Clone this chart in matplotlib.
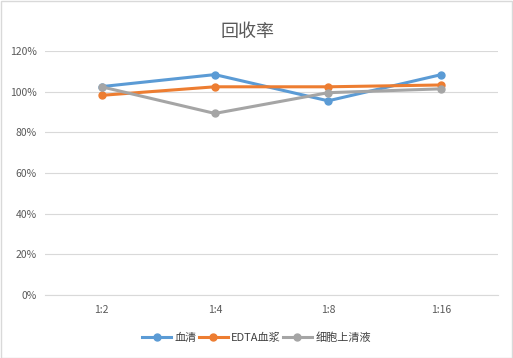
import matplotlib
matplotlib.use("Agg")
import matplotlib.pyplot as plt
from matplotlib.ticker import PercentFormatter

plt.rcParams['font.family'] = ['Noto Sans CJK SC', 'DejaVu Sans']

# data
categories = ['1:2', '1:4', '1:8', '1:16']
serum = [102.5, 108.4, 95.5, 108.4]
edta = [98.2, 102.4, 102.4, 103.3]
supernatant = [102.4, 89.3, 99.5, 101.4]
series_names = ['血清', 'EDTA血浆', '细胞上清液']
colors = ['#5B9BD5', '#ED7D31', '#A5A5A5']

fig = plt.figure(figsize=(5.13, 3.58), dpi=100)
ax = fig.add_axes([0.0877, 0.176, 0.883, 0.6815])

x = range(len(categories))
for vals, name, col in zip([serum, edta, supernatant], series_names, colors):
    ax.plot(x, vals, color=col, lw=2.2, marker='o', ms=5, label=name)

ax.set_xlim(-0.5, len(categories) - 0.5)
ax.set_ylim(0, 120)
ax.set_yticks(range(0, 121, 20))
ax.yaxis.set_major_formatter(PercentFormatter(decimals=0))
ax.set_xticks(list(x))
ax.set_xticklabels(categories)
ax.grid(axis='y', color='#D9D9D9', lw=0.8)
ax.set_axisbelow(True)
for s in ['top', 'right', 'left']:
    ax.spines[s].set_visible(False)
ax.spines['bottom'].set_color('#D9D9D9')
ax.tick_params(length=0, labelsize=7.5, colors='#595959', pad=6)
ax.tick_params(axis='x', pad=7)

fig.text(0.483, 0.912, '回收率', ha='center', va='center', fontsize=13, color='#595959')
fig.legend(loc='center', bbox_to_anchor=(0.5, 0.058), ncol=3, frameon=False,
           fontsize=8, handlelength=2.6, columnspacing=0.2, handletextpad=0.3,
           labelcolor='#404040')

# light border around figure
fig.patches.append(plt.Rectangle((0.001, 0.001), 0.997, 0.997, transform=fig.transFigure,
                                 fill=False, edgecolor='#D9D9D9', lw=1))

fig.savefig('out.png', dpi=100)
